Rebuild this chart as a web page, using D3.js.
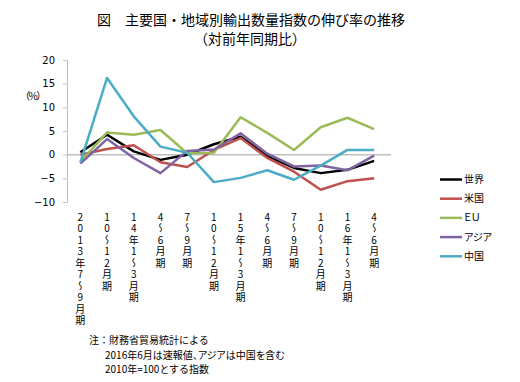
<!DOCTYPE html>
<html><head><meta charset="utf-8">
<script src="https://cdn.jsdelivr.net/npm/d3@7"></script>
<style>
html,body{margin:0;padding:0;background:#fff;}
text{font-family:"Noto Sans CJK JP","Noto Sans",sans-serif;fill:#000;}
.vlab{writing-mode:vertical-rl;text-orientation:upright;font-size:10px;}
.palt{font-feature-settings:"palt" 1;}
</style></head>
<body><svg id="c" width="520" height="382"></svg>
<script>
const categories = ["2013年7〜9月期","10〜12月期","14年1〜3月期","4〜6月期","7〜9月期","10〜12月期","15年1〜3月期","4〜6月期","7〜9月期","10〜12月期","16年1〜3月期","4〜6月期"];
const seriesNames = ["世界","米国","ＥＵ","アジア","中国"];
const world  = [0.5, 4.2, 0.7, -1.1, 0.0, 2.2, 3.8, -0.3, -2.8, -3.9, -3.2, -1.3];
const usa    = [0.0, 1.2, 2.0, -1.6, -2.6, 1.0, 3.5, -0.7, -3.6, -7.4, -5.6, -5.0];
const eu     = [-1.5, 4.7, 4.2, 5.2, 0.3, 0.4, 7.9, 4.6, 1.0, 5.8, 7.8, 5.4];
const asia   = [-1.9, 3.3, -0.7, -3.9, 0.8, 1.1, 4.5, 0.2, -2.5, -2.3, -3.3, -0.2];
const china  = [-1.7, 16.2, 8.1, 1.7, 0.4, -5.8, -4.9, -3.3, -5.3, -2.3, 1.0, 1.0];
const yTicks = [-10, -5, 0, 5, 10, 15, 20];
const colors = ["#000000", "#C0504D", "#9BBB59", "#8064A2", "#4BACC6"];
const seriesValues = [world, usa, eu, asia, china];

const svg = d3.select("#c");
const x = d3.scaleBand().domain(categories.map((d,i)=>i)).range([67, 387.5]);
const y = d3.scaleLinear().domain([-10, 20]).range([202, 60]);

// title
svg.append("text").attr("x", 251).attr("y", 24.5).attr("text-anchor","middle")
  .style("font-size","14px").text("図　主要国・地域別輸出数量指数の伸び率の推移");
svg.append("text").attr("x", 250).attr("y", 44).attr("text-anchor","middle")
  .style("font-size","14px").text("（対前年同期比）");

// zero line
svg.append("line").attr("x1", 67).attr("x2", 391).attr("y1", y(0)).attr("y2", y(0))
  .attr("stroke","#BFBFBF").attr("stroke-width",1.5);

// y axis
const yAxis = d3.axisLeft(y).tickValues(yTicks).tickSize(4).tickSizeOuter(0).tickPadding(8);
const ga = svg.append("g").attr("transform","translate(67,0)").call(yAxis);
ga.select(".domain").attr("stroke","#BFBFBF");
ga.selectAll(".tick line").attr("stroke","#BFBFBF");
ga.selectAll(".tick text").style("font-size","10px").style("font-family","'DejaVu Sans',sans-serif").attr("fill","#000");

svg.append("text").attr("x", 20).attr("y", 100).attr("text-anchor","start")
  .style("font-size","10px").style("letter-spacing","-1.5px").text("（%）");

// x labels (vertical, one text per character)
categories.forEach((lab, i) => {
  const cx = x(i) + x.bandwidth()/2;
  const g = svg.append("g");
  Array.from(lab).forEach((ch, k) => {
    g.append("text").attr("class","vlab").attr("x", cx).attr("y", 212 + k*11.5).text(ch);
  });
});

// lines
const line = d3.line().x((d,i)=>x(i)+x.bandwidth()/2).y(d=>y(d));
seriesValues.forEach((vals, s) => {
  svg.append("path").datum(vals).attr("d", line).attr("fill","none")
    .attr("stroke", colors[s]).attr("stroke-width", 2.5).attr("stroke-linejoin","round");
});

// legend
seriesNames.forEach((n, s) => {
  const ly = 179.5 + s*19.2;
  svg.append("line").attr("x1",440).attr("x2",462).attr("y1",ly).attr("y2",ly)
    .attr("stroke",colors[s]).attr("stroke-width",2.5);
  svg.append("text").attr("class","palt").attr("x",464).attr("y",ly+3.5).style("font-size","10px").text(n);
});

// notes
svg.append("text").attr("x",89).attr("y",344).style("font-size","10px").text("注：財務省貿易統計による");
svg.append("text").attr("class","palt").attr("x",105).attr("y",358.6).style("font-size","10px").text("2016年6月は速報値、アジアは中国を含む");
svg.append("text").attr("x",105).attr("y",373.2).style("font-size","10px").text("2010年=100とする指数");
</script></body></html>
